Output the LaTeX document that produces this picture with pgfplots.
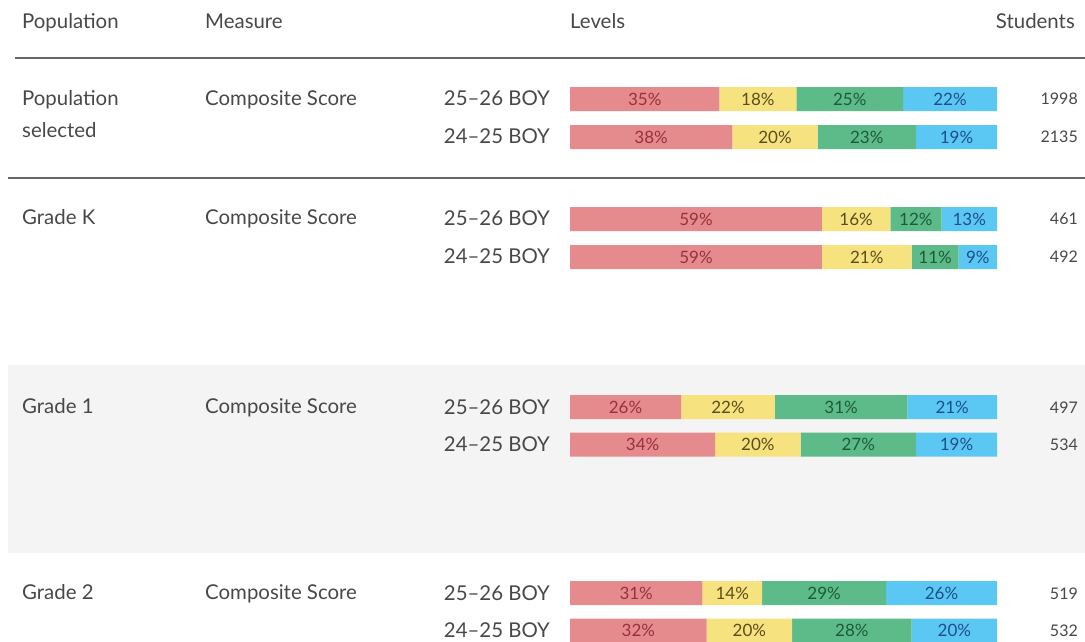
\documentclass[border=0pt]{standalone}
\usepackage{pgfplots}
\pgfplotsset{compat=1.18}
\usepackage{fontspec}
\setmainfont{Lato}
\definecolor{cred}{HTML}{E68B8D}
\definecolor{cyel}{HTML}{F6E27F}
\definecolor{cgrn}{HTML}{5DBB8A}
\definecolor{cblu}{HTML}{5AC8F2}
\definecolor{tred}{HTML}{993040}
\definecolor{tyel}{HTML}{5A4E1C}
\definecolor{tgrn}{HTML}{1E5A3A}
\definecolor{tblu}{HTML}{1F4E8C}
\definecolor{txt}{HTML}{484848}
\definecolor{rulec}{HTML}{666666}
\definecolor{bggray}{HTML}{F4F4F4}
\newcommand{\bigf}{\fontsize{20.4}{24}\selectfont}
\newcommand{\smallf}{\fontsize{17}{20}\selectfont}
\newcommand{\numf}{\fontsize{16}{19}\selectfont}
\begin{document}
\begin{tikzpicture}
\useasboundingbox (0,0) rectangle (1085pt,641pt);
\begin{scope}[shift={(0pt,641pt)},x=1pt,y=-1pt]
  \fill[bggray] (8,365) rectangle (1085,553);
  \draw[rulec,line width=1.3pt] (15,58) -- (1085,58);
  \draw[rulec,line width=1.1pt] (8,178) -- (1085,178);
\end{scope}
\pgfplotsset{base/.style={at={(0pt,0pt)},anchor=south west,width=1085pt,height=641pt,
  scale only axis,hide axis,xmin=-133.4895,xmax=120.6089,ymin=0,ymax=641,y dir=reverse}}
\begin{axis}[base,xbar stacked,bar width=24]
\addplot[fill=cred,draw=none] coordinates {(35,99) (38,137) (59,219) (59,257) (26,407) (34,444.5) (31,593) (32,630.5)};
\addplot[fill=cyel,draw=none] coordinates {(18,99) (20,137) (16,219) (21,257) (22,407) (20,444.5) (14,593) (20,630.5)};
\addplot[fill=cgrn,draw=none] coordinates {(25,99) (23,137) (12,219) (11,257) (31,407) (27,444.5) (29,593) (28,630.5)};
\addplot[fill=cblu,draw=none] coordinates {(22,99) (19,137) (13,219) (9,257) (21,407) (19,444.5) (26,593) (20,630.5)};
\end{axis}
\begin{axis}[base,clip=false]
\addplot[draw=none,nodes near coords,point meta=explicit symbolic,
  every node near coord/.append style={anchor=center,text=tred,font=\smallf}]
  coordinates {(17.5,99)[35\%] (19,137)[38\%] (29.5,219)[59\%] (29.5,257)[59\%]
   (13,407)[26\%] (17,444.5)[34\%] (15.5,593)[31\%] (16,630.5)[32\%]};
\addplot[draw=none,nodes near coords,point meta=explicit symbolic,
  every node near coord/.append style={anchor=center,text=tyel,font=\smallf}]
  coordinates {(44,99)[18\%] (48,137)[20\%] (67,219)[16\%] (69.5,257)[21\%]
   (37,407)[22\%] (44,444.5)[20\%] (38,593)[14\%] (42,630.5)[20\%]};
\addplot[draw=none,nodes near coords,point meta=explicit symbolic,
  every node near coord/.append style={anchor=center,text=tgrn,font=\smallf}]
  coordinates {(65.5,99)[25\%] (69.5,137)[23\%] (81,219)[12\%] (85.5,257)[11\%]
   (63.5,407)[31\%] (67.5,444.5)[27\%] (59.5,593)[29\%] (66,630.5)[28\%]};
\addplot[draw=none,nodes near coords,point meta=explicit symbolic,
  every node near coord/.append style={anchor=center,text=tblu,font=\smallf}]
  coordinates {(89,99)[22\%] (90.5,137)[19\%] (93.5,219)[13\%] (95.5,257)[9\%]
   (89.5,407)[21\%] (90.5,444.5)[19\%] (87,593)[26\%] (90,630.5)[20\%]};
\end{axis}
\begin{scope}[shift={(0pt,641pt)},x=1pt,y=-1pt,every node/.style={text=txt,inner sep=0pt}]
  \node[anchor=base west,font=\bigf] at (22,29) {Population};
  \node[anchor=base west,font=\bigf] at (205,29) {Measure};
  \node[anchor=base west,font=\bigf] at (570,29) {Levels};
  \node[anchor=base east,font=\bigf] at (1075,29) {Students};
  \node[anchor=base west,font=\bigf] at (22,106) {Population};
  \node[anchor=base west,font=\bigf] at (22,138) {selected};
  \node[anchor=base west,font=\bigf] at (22,225) {Grade K};
  \node[anchor=base west,font=\bigf] at (22,413) {Grade 1};
  \node[anchor=base west,font=\bigf] at (22,599) {Grade 2};
  \foreach \y in {106,225,413,599} {
    \node[anchor=base west,font=\bigf] at (205,\y) {Composite Score};
  }
  \foreach \y/\t in {106/25–26 BOY,144/24–25 BOY,226/25–26 BOY,264/24–25 BOY,414/25–26 BOY,451.5/24–25 BOY,600/25–26 BOY,637.5/24–25 BOY} {
    \node[anchor=base east,font=\bigf] at (550,\y) {\t};
  }
  \foreach \y/\t in {105/1998,143/2135,225/461,263/492,413/497,450.5/534,599/519,636.5/532} {
    \node[anchor=base east,font=\numf] at (1078,\y) {\t};
  }
\end{scope}
\end{tikzpicture}
\end{document}
